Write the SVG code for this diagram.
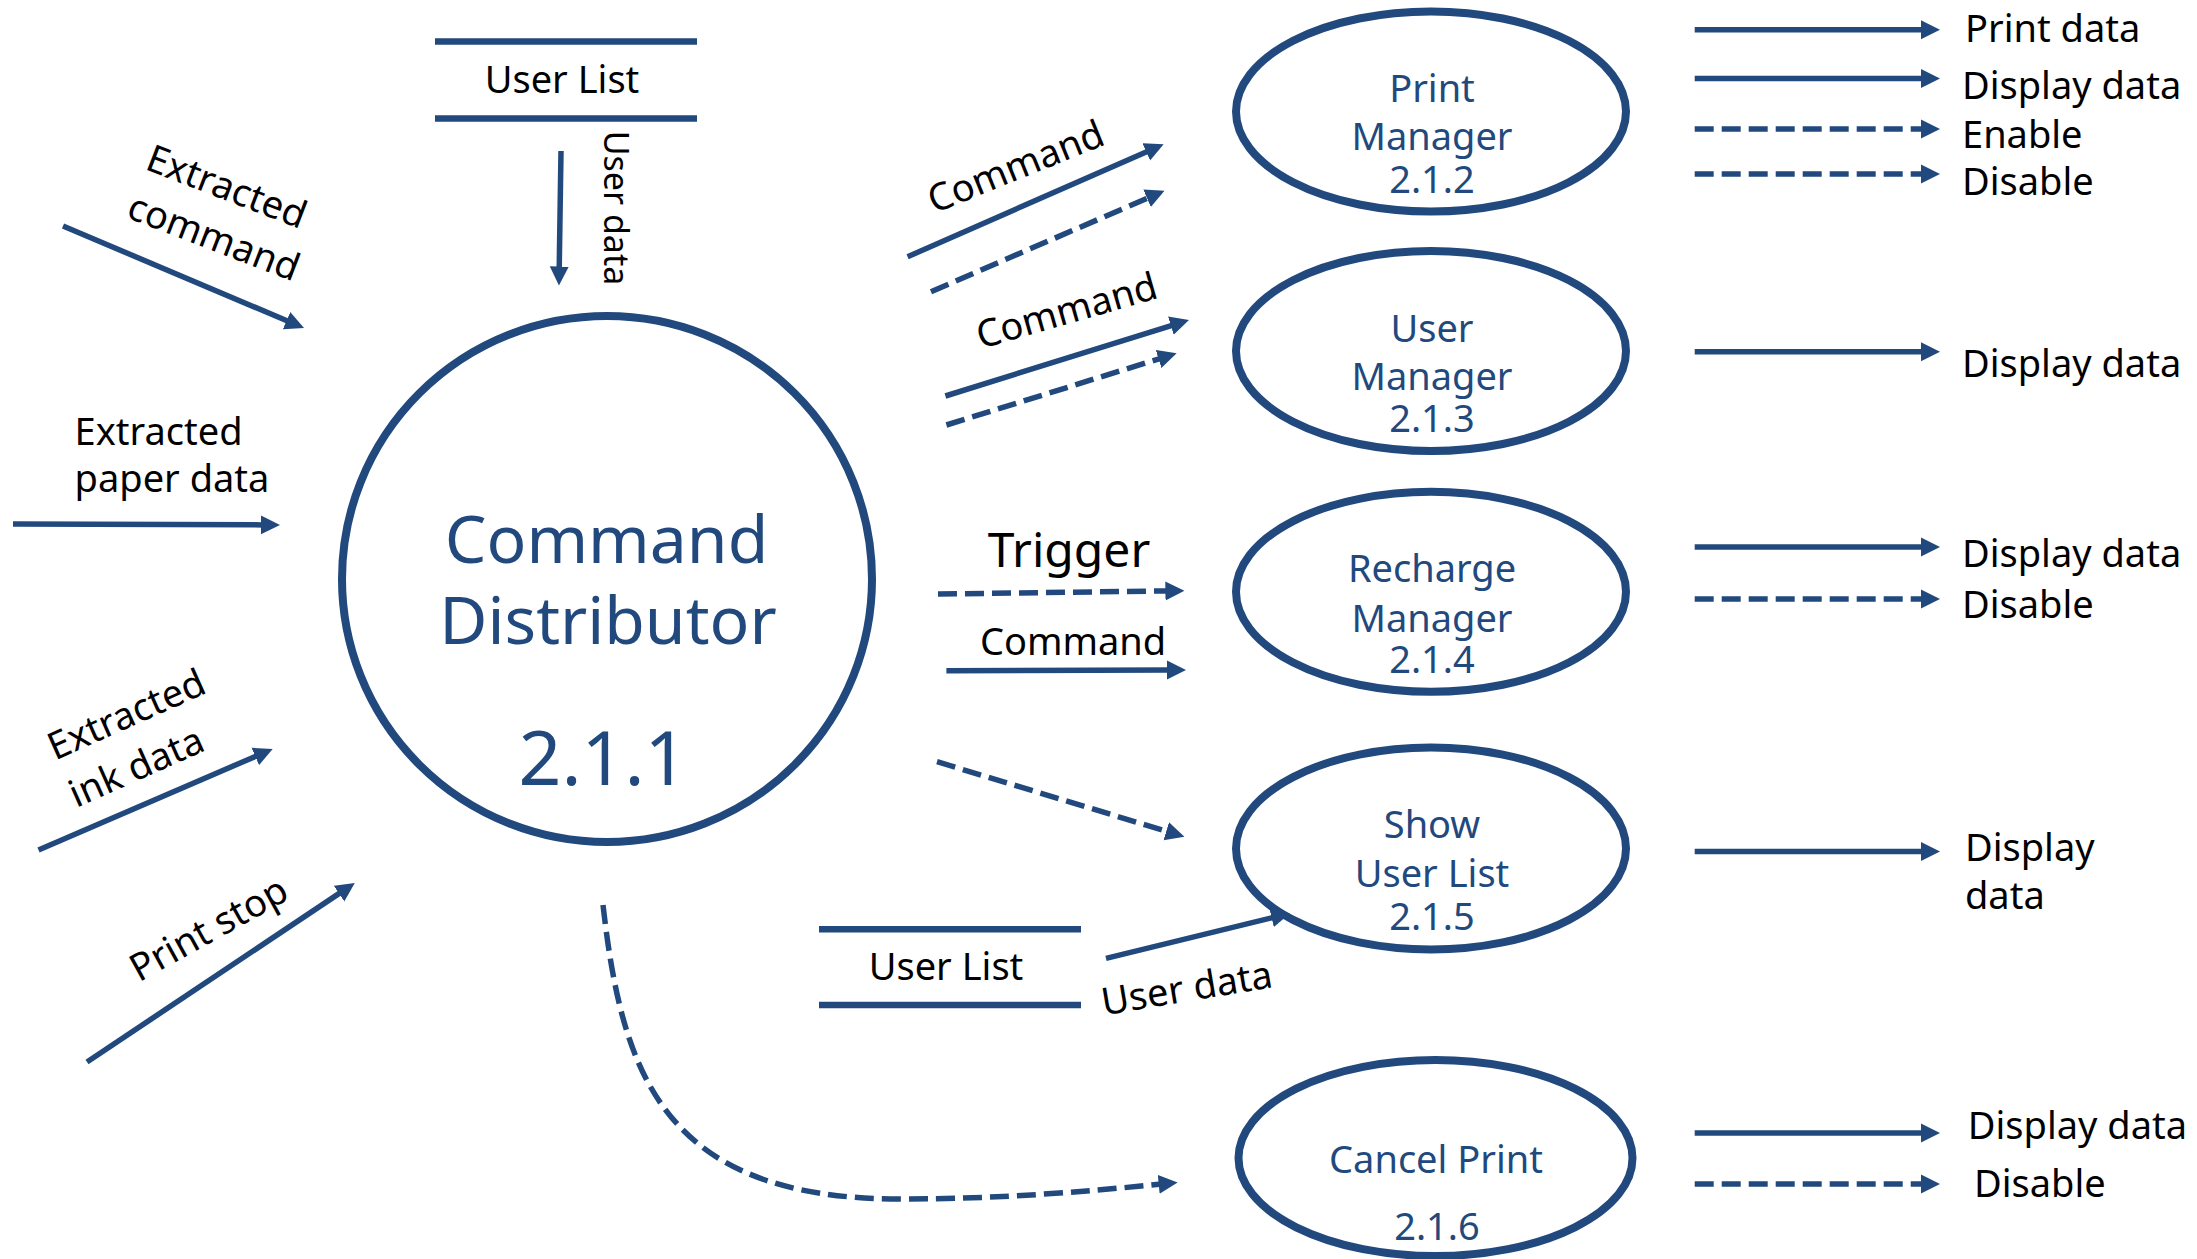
<svg xmlns="http://www.w3.org/2000/svg" width="2197" height="1259" viewBox="0 0 2197 1259">
<style>
  .proc { fill: none; stroke: #22497D; stroke-width: 8; }
  .store { stroke: #22497D; stroke-width: 6.5; fill: none; }
  .ptxt { font-family: "Noto Sans", "Open Sans", sans-serif; fill: #22497D; text-anchor: middle; }
  .lbl { font-family: "Noto Sans", "Open Sans", sans-serif; fill: #000; font-size: 38px; }
  .mid { text-anchor: middle; }
  .big { font-size: 48px; }
  .small { font-size: 34px; }
  .flow { fill: none; stroke: #22497D; stroke-width: 5.5; marker-end: url(#ah); }
  .dash { stroke-dasharray: 19 8; }
</style>
<defs>
  <marker id="ah" markerUnits="userSpaceOnUse" markerWidth="20" markerHeight="20" viewBox="0 0 20 20" refX="3" refY="10" orient="auto">
    <path d="M0,0.5 L19,10 L0,19.5 z" fill="#22497D"/>
  </marker>
</defs>
<rect width="2197" height="1259" fill="#fff"/>

<g id="node-command-distributor">
  <ellipse class="proc" cx="607" cy="579" rx="265" ry="263"/>
  <text class="ptxt" x="606.5" y="563" font-size="66">Command</text>
  <text class="ptxt" x="608" y="644" font-size="66">Distributor</text>
  <text class="ptxt" x="603" y="785" font-size="75">2.1.1</text>
</g>

<g id="node-print-manager">
  <ellipse class="proc" cx="1431" cy="111.5" rx="195" ry="100"/>
  <text class="ptxt" x="1432" y="101.7" font-size="38">Print</text>
  <text class="ptxt" x="1432" y="150" font-size="38">Manager</text>
  <text class="ptxt" x="1432" y="192.7" font-size="38">2.1.2</text>
</g>

<g id="node-user-manager">
  <ellipse class="proc" cx="1431" cy="351" rx="195" ry="100"/>
  <text class="ptxt" x="1432" y="341.7" font-size="38">User</text>
  <text class="ptxt" x="1432" y="390" font-size="38">Manager</text>
  <text class="ptxt" x="1432" y="432.3" font-size="38">2.1.3</text>
</g>

<g id="node-recharge-manager">
  <ellipse class="proc" cx="1431" cy="591.8" rx="195" ry="100"/>
  <text class="ptxt" x="1432" y="581.7" font-size="38">Recharge</text>
  <text class="ptxt" x="1432" y="631.7" font-size="38">Manager</text>
  <text class="ptxt" x="1432" y="673.3" font-size="38">2.1.4</text>
</g>

<g id="node-show-user-list">
  <ellipse class="proc" cx="1431" cy="848.5" rx="195" ry="101"/>
  <text class="ptxt" x="1432" y="838.3" font-size="38">Show</text>
  <text class="ptxt" x="1432" y="886.7" font-size="38">User List</text>
  <text class="ptxt" x="1432" y="930" font-size="38">2.1.5</text>
</g>

<g id="node-cancel-print">
  <ellipse class="proc" cx="1435.5" cy="1158" rx="197" ry="98"/>
  <text class="ptxt" x="1436" y="1173.3" font-size="38">Cancel Print</text>
  <text class="ptxt" x="1437" y="1240" font-size="38">2.1.6</text>
</g>

<g id="store-user-list-top">
  <line class="store" x1="435" y1="41.5" x2="697" y2="41.5"/>
  <line class="store" x1="435" y1="118.6" x2="697" y2="118.6"/>
  <text class="lbl mid" x="562" y="93.3">User List</text>
</g>

<g id="store-user-list-bottom">
  <line class="store" x1="819" y1="929.3" x2="1081" y2="929.3"/>
  <line class="store" x1="819" y1="1005" x2="1081" y2="1005"/>
  <text class="lbl mid" x="946" y="980">User List</text>
</g>

<g id="connectors">
  <!-- inputs to command distributor -->
  <line class="flow" x1="63" y1="226" x2="289.3" y2="321.8"/>
  <line class="flow" x1="13" y1="524" x2="264" y2="524.9"/>
  <line class="flow" x1="38.5" y1="850" x2="258" y2="755.3"/>
  <line class="flow" x1="87" y1="1062" x2="341.5" y2="891.9"/>
  <line class="flow" x1="561" y1="151" x2="559.2" y2="269.5"/>
  <!-- to print manager -->
  <line class="flow" x1="907.6" y1="256.7" x2="1149" y2="150.7"/>
  <line class="flow dash" x1="931" y1="291.7" x2="1149.8" y2="197.1"/>
  <!-- to user manager -->
  <line class="flow" x1="945.4" y1="396" x2="1173.7" y2="324.8"/>
  <line class="flow dash" x1="946.4" y1="425" x2="1161.4" y2="358.1"/>
  <!-- to recharge manager -->
  <line class="flow dash" x1="938" y1="594" x2="1168.4" y2="590.9"/>
  <line class="flow" x1="946.4" y1="670.7" x2="1170" y2="670"/>
  <!-- to show user list -->
  <line class="flow dash" x1="937" y1="761.7" x2="1169.1" y2="832.1"/>
  <line class="flow" x1="1106" y1="958.3" x2="1274.5" y2="917.1"/>
  <!-- to cancel print -->
  <path class="flow dash" d="M603,905 C622,1070 660,1199 900,1199 C1000,1199 1080,1192 1161.7,1184.1"/>
  <!-- outputs -->
  <line class="flow" x1="1694.7" y1="29.7" x2="1924" y2="29.7"/>
  <line class="flow" x1="1694.7" y1="78.4" x2="1924" y2="78.4"/>
  <line class="flow dash" x1="1694.7" y1="129" x2="1924" y2="129"/>
  <line class="flow dash" x1="1694.7" y1="174" x2="1924" y2="174"/>
  <line class="flow" x1="1694.7" y1="351.8" x2="1924" y2="351.8"/>
  <line class="flow" x1="1694.7" y1="546.9" x2="1924" y2="546.9"/>
  <line class="flow dash" x1="1694.7" y1="599" x2="1924" y2="599"/>
  <line class="flow" x1="1694.7" y1="851.5" x2="1924" y2="851.5"/>
  <line class="flow" x1="1694.7" y1="1133" x2="1924" y2="1133"/>
  <line class="flow dash" x1="1694.7" y1="1184" x2="1924" y2="1184"/>

  <!-- flow labels -->
  <text class="lbl mid" transform="translate(226.7,186.8) rotate(21)" y="13">Extracted</text>
  <text class="lbl mid" transform="translate(213.8,237.2) rotate(21)" y="13">command</text>
  <text class="lbl" x="74.6" y="445">Extracted</text>
  <text class="lbl" x="74.6" y="492">paper data</text>
  <text class="lbl mid" transform="translate(126.4,714.6) rotate(-24)" y="13">Extracted</text>
  <text class="lbl mid" transform="translate(136.4,767) rotate(-24)" y="13">ink data</text>
  <text class="lbl" transform="translate(139,982.5) rotate(-29)">Print stop</text>
  <text class="lbl mid small" transform="translate(616,208) rotate(90)" y="12">User data</text>
  <text class="lbl mid" transform="translate(1015.7,166.7) rotate(-22)" y="13">Command</text>
  <text class="lbl mid" transform="translate(1066.6,310.8) rotate(-16)" y="13">Command</text>
  <text class="lbl mid big" x="1069" y="566.7">Trigger</text>
  <text class="lbl mid" x="1073" y="655">Command</text>
  <text class="lbl mid" transform="translate(1186.7,988.3) rotate(-9.5)" y="13">User data</text>

  <text class="lbl" x="1965" y="42.4">Print data</text>
  <text class="lbl" x="1962" y="99">Display data</text>
  <text class="lbl" x="1962" y="148">Enable</text>
  <text class="lbl" x="1962" y="195">Disable</text>
  <text class="lbl" x="1962" y="377">Display data</text>
  <text class="lbl" x="1962" y="567">Display data</text>
  <text class="lbl" x="1962" y="618">Disable</text>
  <text class="lbl" x="1965" y="861">Display</text>
  <text class="lbl" x="1965" y="908.5">data</text>
  <text class="lbl" x="1967.8" y="1139">Display data</text>
  <text class="lbl" x="1974" y="1197">Disable</text>
</g>
</svg>
